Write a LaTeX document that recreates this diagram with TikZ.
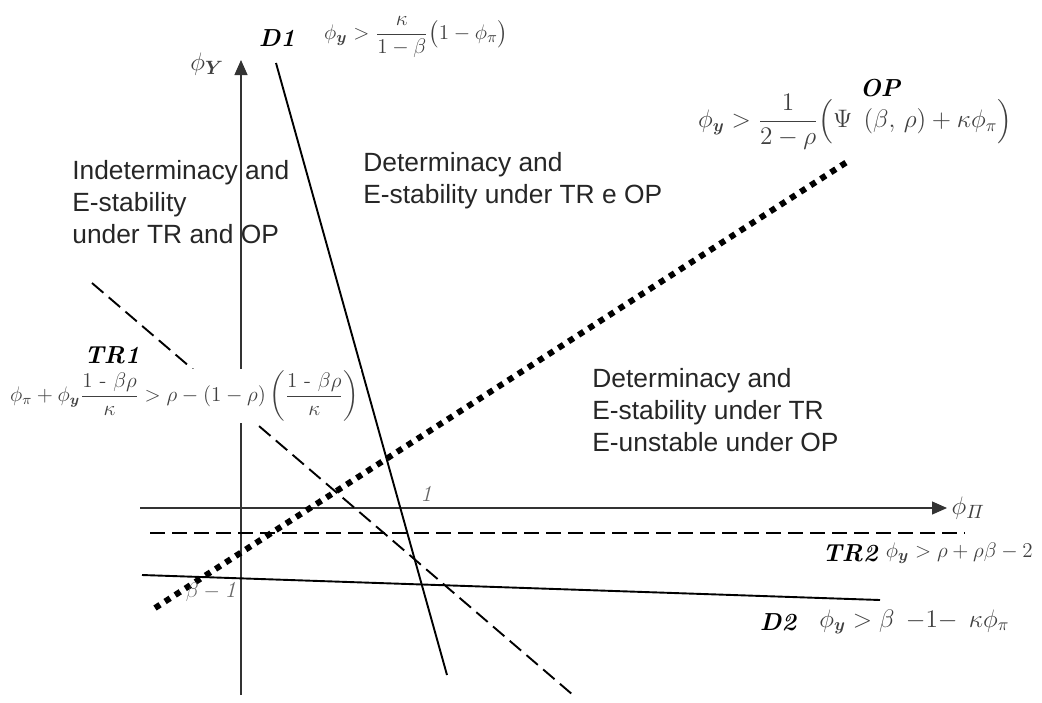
\documentclass[tikz,border=0pt]{standalone}
\usepackage{amsmath}
\usepackage{amssymb}
\usepackage{fontspec}
\newfontfamily\regionfont{Liberation Sans}
\usetikzlibrary{arrows.meta}

\definecolor{mathgrey}{gray}{0.25}
\definecolor{tickgrey}{gray}{0.4}

\tikzset{
  axis/.style={draw=black!80, line width=0.25mm, -{Triangle[length=3mm,width=2.6mm]}},
  solidline/.style={line width=0.38mm},
  dashline/.style={line width=0.38mm, dash pattern=on 3mm off 1.4mm},
  dotline/.style={line width=1.2mm, dash pattern=on 1.2mm off 1.2mm},
  region/.style={font=\regionfont\fontsize{15}{18.2}\selectfont, text=black!85,
    align=left, anchor=north west, inner sep=0pt},
  eqn/.style={text=mathgrey, font=\fontsize{13}{15}\selectfont, inner sep=1pt},
  axlabel/.style={text=mathgrey, font=\fontsize{15}{17}\selectfont, inner sep=1pt},
  tag/.style={font=\fontsize{14}{16}\selectfont\bfseries\itshape},
  tick/.style={text=tickgrey, font=\fontsize{13}{15}\selectfont\itshape}
}

\begin{document}
\begin{tikzpicture}[x=0.2mm,y=-0.2mm]
\useasboundingbox (0,0) rectangle (1042,702);

% end points
\coordinate (xstart) at (140,508);
\coordinate (xend) at (947,508);
\coordinate (ystart) at (241,695);
\coordinate (yend) at (241,60);
\coordinate (D1top) at (276,63);
\coordinate (D1bot) at (447,675);
\coordinate (D2left) at (142,575);
\coordinate (D2right) at (880,600);
\coordinate (TR1top) at (92,283);
\coordinate (TR1bot) at (573,695);
\coordinate (TR2left) at (150,533);
\coordinate (TR2right) at (965,533);
\coordinate (OPbot) at (155,608);
\coordinate (OPtop) at (850,160);

% axes
\draw[axis] (xstart) -- (xend);
\draw[axis] (ystart) -- (yend);
\node[axlabel, anchor=west] (xlab) at ([xshift=0.5mm]xend) {$\phi_{\varPi}$};
\node[axlabel, anchor=east] (ylab) at (226,64) {$\phi_{\boldsymbol{Y}}$};

% boundaries
\draw[solidline] (D1top) -- (D1bot);
\draw[solidline] (D2left) -- (D2right);
\draw[dashline] (TR1top) -- (TR1bot);
\draw[dashline] (TR2left) -- (TR2right);
\draw[dotline] (OPbot) -- (OPtop);

% ticks
\node[tick] (one) at (426,494) {1};
\node[tick] (betaone) at (211,592) {$\beta - \mathit{1}$};

% regions
\node[region] (indet) at (72,160) {Indeterminacy and\\E-stability\\under TR and OP};
\node[region] (detboth) at (363,152) {Determinacy and\\E-stability under TR e OP};
\node[region] (detTR) at (592,368) {Determinacy and\\E-stability under TR\\E-unstable under OP};

% conditions
\node[tag] (D1tag) at (277,38) {D1};
\node[eqn, anchor=west] (D1eq) at (322,37)
  {$\displaystyle \phi_{\boldsymbol{y}} > \frac{\kappa}{1-\beta}\bigl(1-\phi_{\pi}\bigr)$};
\node[eqn, anchor=west, font=\fontsize{14}{16}\selectfont] (OPeq) at (696,122)
  {$\displaystyle \phi_{\boldsymbol{y}} > \frac{1}{2-\rho}\Bigl(\Psi\;\left(\beta,\,\rho\right)+\kappa\phi_{\pi}\Bigr)$};
\node[tag] (OPtag) at (880,88) {OP};
\node[tag] (TR1tag) at (112,355) {TR1};
\node[eqn, anchor=west, fill=white, font=\fontsize{12}{14}\selectfont] (TR1eq) at (8,396)
  {$\displaystyle \phi_{\pi}+\phi_{\boldsymbol{y}}\frac{\text{1 - }\beta\rho}{\kappa} > \rho-(1-\rho)\left(\frac{\text{1 - }\beta\rho}{\kappa}\right)$};
\node[tag] (TR2tag) at (850,553) {TR2};
\node[eqn, anchor=west, font=\fontsize{12.5}{15}\selectfont] (TR2eq) at (TR2tag.east) {$\phi_{\boldsymbol{y}} > \rho+\rho\beta-2$};
\node[tag] (D2tag) at (778,622) {D2};
\node[eqn, anchor=west, font=\fontsize{14}{16}\selectfont] (D2eq) at ([xshift=3mm]D2tag.east) {$\phi_{\boldsymbol{y}} > \beta\;\, {-}1{-}\;\, \kappa\phi_{\pi}$};
\end{tikzpicture}
\end{document}
